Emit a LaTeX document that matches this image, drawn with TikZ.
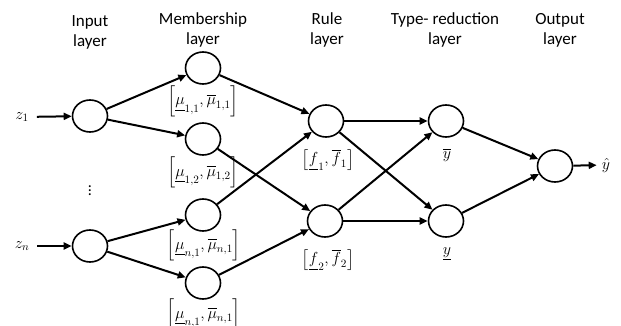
\RequirePackage{fix-cm}
\documentclass[tikz,border=0pt]{standalone}
\usepackage{amsmath}
\usepackage{fontspec}
\setmainfont{Carlito}
\usetikzlibrary{arrows.meta,shapes.geometric}

\begin{document}
\begin{tikzpicture}[x=1pt, y=-1pt,
  neuron/.style = {ellipse, draw=black, line width=1.6pt, fill=white,
                   minimum width=35pt, minimum height=32pt, inner sep=0pt},
  head/.style   = {align=center, font=\fontsize{17}{20}\selectfont},
  lbl/.style    = {font=\fontsize{16}{19}\selectfont, inner sep=0pt},
  arr/.style    = {-{Triangle[length=8pt,width=7pt]}, line width=2pt},
]
\useasboundingbox (0,0) rectangle (621,326);
% layer titles
\node[head] (hin)   at (90, 32)  {Input\\layer};
\node[head] (hmem)  at (203, 30) {Membership\\layer};
\node[head] (hrule) at (327, 30) {Rule\\layer};
\node[head] (htype) at (445, 30) {Type- reduction\\layer};
\node[head] (hout)  at (560, 30) {Output\\layer};
% inputs
\node[lbl, inner xsep=8pt] (z1) at (22, 117) {$z_1$};
\node[lbl, inner xsep=8pt] (zn) at (22, 246) {$z_n$};
\node[lbl] (dots) at (90, 188) {$\vdots$};
% neurons
\node[neuron] (i1) at (90, 116)  {};
\node[neuron] (in) at (90, 246)  {};
\node[neuron] (m1) at (203, 68)  {};
\node[neuron] (m2) at (203, 139) {};
\node[neuron] (m3) at (203, 215) {};
\node[neuron] (m4) at (203, 283) {};
\node[neuron] (r1) at (326, 121) {};
\node[neuron] (r2) at (325, 221) {};
\node[neuron] (t1) at (446, 121) {};
\node[neuron] (t2) at (446, 221) {};
\node[neuron] (o)  at (555, 166) {};
\node[lbl, inner xsep=5pt] (yhat) at (606, 165) {$\hat{y}$};
% interval labels
\node[lbl] (lm1) at (203, 101) {$\left[\underline{\mu}_{1,1},\overline{\mu}_{1,1}\right]$};
\node[lbl] (lm2) at (203, 172) {$\left[\underline{\mu}_{1,2},\overline{\mu}_{1,2}\right]$};
\node[lbl] (lm3) at (204, 245) {$\left[\underline{\mu}_{n,1},\overline{\mu}_{n,1}\right]$};
\node[lbl] (lm4) at (204, 314) {$\left[\underline{\mu}_{n,1},\overline{\mu}_{n,1}\right]$};
\node[lbl] (lr1) at (328, 160) {$\left[\underline{f}_1,\overline{f}_1\right]$};
\node[lbl] (lr2) at (328, 260) {$\left[\underline{f}_2,\overline{f}_2\right]$};
\node[lbl] (lt1) at (447, 155) {$\overline{y}$};
\node[lbl] (lt2) at (447, 254) {$\underline{y}$};
% arrows
\draw[arr] (z1) -- (i1);
\draw[arr] (zn) -- (in);
\draw[arr] (i1) -- (m1);
\draw[arr] (i1) -- (m2);
\draw[arr] (in) -- (m3);
\draw[arr] (in) -- (m4);
\draw[arr] (m1) -- (r1);
\draw[arr] (m2) -- (r2);
\draw[arr] (m3) -- (r1);
\draw[arr] (m4) -- (r2);
\draw[arr] (r1) -- (t1);
\draw[arr] (r1) -- (t2);
\draw[arr] (r2) -- (t1);
\draw[arr] (r2) -- (t2);
\draw[arr] (t1) -- (o);
\draw[arr] (t2) -- (o);
\draw[arr] (o)  -- (yhat);
\end{tikzpicture}
\end{document}
